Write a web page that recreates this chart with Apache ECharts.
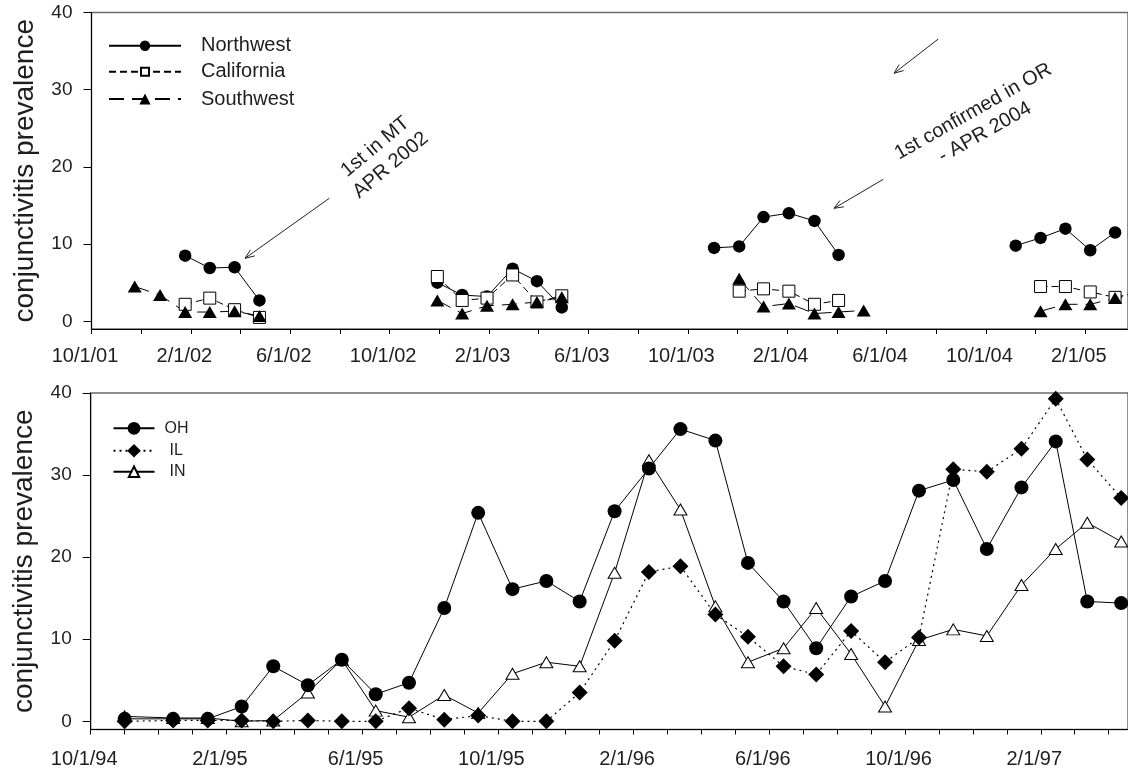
<!DOCTYPE html>
<html>
<head>
<meta charset="utf-8">
<script src="https://cdn.jsdelivr.net/npm/echarts@6/dist/echarts.min.js"></script>
<style>html,body{margin:0;padding:0;background:#fff}#c{width:1128px;height:772px}</style>
</head>
<body>
<div id="c"></div>
<script>
// ---------- tick labels ----------
const topTickLabels = ['10/1/01','2/1/02','6/1/02','10/1/02','2/1/03','6/1/03','10/1/03','2/1/04','6/1/04','10/1/04','2/1/05'];
const bottomTickLabels = ['10/1/94','2/1/95','6/1/95','10/1/95','2/1/96','6/1/96','10/1/96','2/1/97'];

// ---------- top panel: x = months after 10/1/2001, null = gap between seasons ----------
const nwMonth = [3.77,4.76,5.76,6.76,null,13.92,14.92,15.92,16.95,17.93,18.93,null,25.06,26.07,27.05,28.07,29.10,30.07,null,37.2,38.2,39.2,40.2,41.2];
const nwValue = [8.5,6.9,7.0,2.7,null,5.0,3.4,3.2,6.8,5.2,1.8,null,9.5,9.7,13.5,14.0,13.0,8.6,null,9.8,10.8,12.0,9.2,11.5];
const caMonth = [3.77,4.76,5.76,6.76,null,13.92,14.92,15.92,16.95,17.93,18.93,null,26.07,27.05,28.07,29.10,30.07,null,38.2,39.2,40.2,41.2,42.2];
const caValue = [2.2,3.0,1.5,0.5,null,5.8,2.7,3.0,6.0,2.5,3.3,null,3.9,4.2,3.9,2.2,2.7,null,4.5,4.5,3.8,3.1,3.8];
const swMonth = [1.74,2.76,3.77,4.76,5.76,6.76,null,13.92,14.92,15.92,16.95,17.93,18.93,null,26.07,27.05,28.07,29.10,30.07,31.08,null,38.2,39.2,40.2,41.2,42.2];
const swValue = [4.5,3.4,1.2,1.2,1.3,0.7,null,2.7,1.0,2.0,2.2,2.5,3.1,null,5.5,1.9,2.3,1.0,1.2,1.4,null,1.3,2.2,2.2,3.0,3.6];

// ---------- bottom panel: x = months after 10/1/1994 ----------
const botMonth = [1.0,2.43,3.45,4.45,5.38,6.4,7.4,8.4,9.38,10.42,11.42,12.43,13.43,14.41,15.44,16.45,17.38,18.41,19.37,20.42,21.38,22.41,23.41,24.41,25.42,26.41,27.43,28.44,29.37,30.37];
const ohValue = [0.3,0.3,0.3,1.8,6.7,4.4,7.5,3.3,4.7,13.8,25.4,16.1,17.1,14.6,25.6,30.8,35.6,34.2,19.3,14.6,8.9,15.2,17.1,28.1,29.4,21.0,28.5,34.1,14.6,14.4];
const ilValue = [0.0,0.1,0.1,0.1,0.0,0.1,0.0,0.0,1.6,0.2,0.7,0.0,0.0,3.5,9.8,18.2,18.9,13.0,10.3,6.7,5.7,11.0,7.2,10.2,30.7,30.4,33.2,39.3,31.9,27.2];
const inValue = [0.6,0.4,0.4,0.0,0.1,3.5,7.5,1.3,0.5,3.2,1.0,5.8,7.2,6.7,18.1,31.8,25.8,14.0,7.2,8.9,13.8,8.2,1.8,9.9,11.2,10.4,16.6,21.0,24.2,21.9];

const yTicks = [0,10,20,30,40];

function pairs(xs, ys) {
  return xs.map((x, i) => (x === null || ys[i] === null) ? ['-', '-'] : [x, ys[i]]);
}

const FONT = '"Liberation Sans", Arial, Helvetica, sans-serif';
const TXT = '#1e1e1e';

const topTickVals = []; for (let m = 0; m <= 40; m += 2) topTickVals.push(m);
const topLabelVals = topTickLabels.map((_, i) => i * 4);
const botTickVals = []; for (let m = 0; m <= 30; m += 1) botTickVals.push(m);
const botLabelVals = bottomTickLabels.map((_, i) => i * 4);

function xAxisCfg(gi, max, ticks, labelVals, labels, margin) {
  return {
    gridIndex: gi, type: 'value', min: 0, max: max,
    axisLine: { show: true, onZero: false, lineStyle: { color: '#000', width: 1 } },
    axisTick: { show: true, customValues: ticks, length: 5, lineStyle: { color: '#000', width: 1 } },
    axisLabel: { customValues: labelVals, formatter: v => labels[Math.round(v / 4)] || '',
      fontSize: 20, fontFamily: FONT, color: TXT, margin: margin, padding: [0, 13, 0, 0] },
    splitLine: { show: false }
  };
}
function yAxisCfg(gi) {
  return {
    gridIndex: gi, type: 'value', min: -1, max: 40,
    name: 'conjunctivitis prevalence', nameLocation: 'middle', nameGap: 52,
    nameTextStyle: { fontSize: 28, fontFamily: FONT, color: TXT },
    axisLine: { show: true, onZero: false, lineStyle: { color: '#000', width: 1 } },
    axisTick: { show: true, customValues: yTicks, length: 8, lineStyle: { color: '#000', width: 1 } },
    axisLabel: { customValues: yTicks, fontSize: 19, fontFamily: FONT, color: TXT, margin: 19 },
    splitLine: { show: false }
  };
}

function arrow(x1, y1, x2, y2) {
  const a = Math.atan2(y2 - y1, x2 - x1), L = 10, s = 0.38;
  return [
    { type: 'line', shape: { x1, y1, x2, y2 }, style: { stroke: '#222', lineWidth: 1 } },
    { type: 'polyline', shape: { points: [
        [x2 - L * Math.cos(a - s), y2 - L * Math.sin(a - s)], [x2, y2],
        [x2 - L * Math.cos(a + s), y2 - L * Math.sin(a + s)]] },
      style: { stroke: '#222', lineWidth: 1, fill: null } }
  ];
}
function note(text, x, y, deg) {
  return { type: 'text', x, y, rotation: deg * Math.PI / 180,
    style: { text, fontSize: 20, fontFamily: FONT, fill: TXT, align: 'center', verticalAlign: 'middle',
      textAlign: 'center', textVerticalAlign: 'middle', lineHeight: 24 } };
}

function legendCfg(name, left, cy, w, h, fs, pad) {
  return { data: [name], left: left, top: cy - fs / 2, orient: 'vertical', padding: 0, itemGap: 0,
    itemWidth: w, itemHeight: h, selectedMode: false,
    textStyle: { fontSize: fs, lineHeight: fs, fontFamily: FONT, color: TXT, padding: [0, 0, 0, pad] } };
}

const chart = echarts.init(document.getElementById('c'), null, { renderer: 'canvas' });
chart.setOption({
  animation: false,
  backgroundColor: '#fff',
  grid: [
    { left: 91.5, right: -2, top: 12.5, height: 316.5, show: true, borderColor: '#6a6a6a', borderWidth: 1.5, backgroundColor: 'transparent' },
    { left: 90.7, right: -2, top: 393, height: 336.5, show: true, borderColor: '#6a6a6a', borderWidth: 1.5, backgroundColor: 'transparent' }
  ],
  xAxis: [
    xAxisCfg(0, 41.72, topTickVals, topLabelVals, topTickLabels, 17),
    xAxisCfg(1, 30.57, botTickVals, botLabelVals, bottomTickLabels, 20)
  ],
  yAxis: [yAxisCfg(0), yAxisCfg(1)],
  legend: [
    legendCfg('Northwest', 108, 45.7, 72, 13, 20, 15),
    legendCfg('California', 108, 71.7, 72, 10, 20, 15),
    legendCfg('Southwest', 108, 99, 72, 14, 20, 15),
    legendCfg('OH', 112.5, 428.3, 41, 16, 16, 5),
    legendCfg('IL', 112.5, 450.7, 41, 17, 16, 10),
    legendCfg('IN', 112.5, 471.7, 41, 13, 16, 10)
  ],
  series: [
    { name: 'Northwest', type: 'line', xAxisIndex: 0, yAxisIndex: 0, data: pairs(nwMonth, nwValue),
      symbol: 'circle', symbolSize: 12.5, clip: true,
      itemStyle: { color: '#000' }, lineStyle: { color: '#000', width: 1 } },
    { name: 'California', type: 'line', xAxisIndex: 0, yAxisIndex: 0, data: pairs(caMonth, caValue),
      symbol: 'rect', symbolSize: 12, clip: true,
      itemStyle: { color: '#fff', borderColor: '#000', borderWidth: 1 }, lineStyle: { color: '#000', width: 1, type: [7, 4] } },
    { name: 'Southwest', type: 'line', xAxisIndex: 0, yAxisIndex: 0, data: pairs(swMonth, swValue),
      symbol: 'triangle', symbolSize: [14, 12], clip: true,
      itemStyle: { color: '#000' }, lineStyle: { color: '#000', width: 1, type: [15, 8] } },
    { name: 'IN', type: 'line', xAxisIndex: 1, yAxisIndex: 1, data: pairs(botMonth, inValue),
      symbol: 'triangle', symbolSize: [13, 11], clip: true,
      itemStyle: { color: '#fff', borderColor: '#000', borderWidth: 1 }, lineStyle: { color: '#000', width: 1 } },
    { name: 'IL', type: 'line', xAxisIndex: 1, yAxisIndex: 1, data: pairs(botMonth, ilValue),
      symbol: 'diamond', symbolSize: 16, clip: true,
      itemStyle: { color: '#000' }, lineStyle: { color: '#000', width: 1.2, type: [2, 4] } },
    { name: 'OH', type: 'line', xAxisIndex: 1, yAxisIndex: 1, data: pairs(botMonth, ohValue),
      symbol: 'circle', symbolSize: 14, clip: true,
      itemStyle: { color: '#000' }, lineStyle: { color: '#000', width: 1 } }
  ],
  graphic: [].concat(
    arrow(329.3, 198.3, 245, 258.3),
    arrow(883.3, 179.3, 834, 208.3),
    arrow(938.3, 39, 894, 73.3),
    [note('1st in MT\nAPR 2002', 383, 156, 40), note('1st confirmed in OR\n- APR 2004', 979, 122, 29.5)]
  )
});
</script>
</body>
</html>
